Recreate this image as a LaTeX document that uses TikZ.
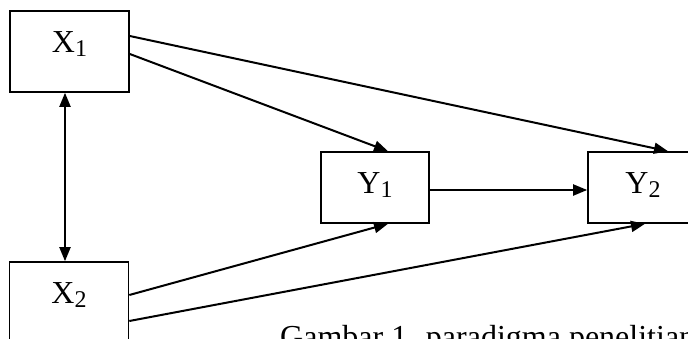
\documentclass[tikz,border=0pt]{standalone}
\usepackage{fontspec}
\setmainfont{Liberation Serif}
\usetikzlibrary{arrows.meta}
\newcommand{\lowidx}[1]{\raisebox{-4pt}{\fontsize{24}{24}\selectfont #1}}
\tikzset{
  pp/xbox/.style={
    draw,
    line width=1.6pt,
    rectangle,
    fill=white,
    minimum width=119pt,
    inner xsep=0pt,
    inner ysep=0pt,
    text height=41pt,
    text depth=40pt,
    font=\fontsize{32}{38}\selectfont
  },
  pp/ybox/.style={pp/xbox, minimum width=108pt, text depth=30pt},
  pp/arrow/.style={-{Triangle[length=14pt,width=11pt]}, line width=2pt},
  pp/both/.style={{Triangle[length=14pt,width=11pt]}-{Triangle[length=14pt,width=11pt]}, line width=2pt},
  pp/caption/.style={font=\fontsize{32}{38}\selectfont, anchor=base west, inner sep=0pt}
}
\begin{document}
\begin{tikzpicture}[x=1pt,y=-1pt]
  \useasboundingbox (0,0) rectangle (688,338);
  \clip (0,0) rectangle (688,338);
  \node[pp/xbox] (x1) at (69.5,51.5) {X\lowidx{1}};
  \node[pp/xbox] (x2) at (69,302.5) {X\lowidx{2}};
  \node[pp/ybox] (y1) at (375,187.5) {Y\lowidx{1}};
  \node[pp/ybox,minimum width=110pt] (y2) at (643,187.5) {Y\lowidx{2}};
  \draw[pp/both] ([xshift=-4.5pt]x1.south) -- ([xshift=-4pt]x2.north);
  \draw[pp/arrow] ([yshift=15.5pt]x1.east) -- ([xshift=25pt]y2.north);
  \draw[pp/arrow] ([yshift=-2.5pt]x1.east) -- ([xshift=13pt]y1.north);
  \draw[pp/arrow] ([yshift=7.5pt]x2.east) -- ([xshift=13pt]y1.south);
  \draw[pp/arrow] ([yshift=-18.5pt]x2.east) -- ([xshift=2pt]y2.south);
  \draw[pp/arrow] ([yshift=-2.5pt]y1.east) -- ([yshift=-2.5pt]y2.west);
  \node[pp/caption] (cap) at (280,347) {Gambar 1. paradigma penelitian};
\end{tikzpicture}
\end{document}
